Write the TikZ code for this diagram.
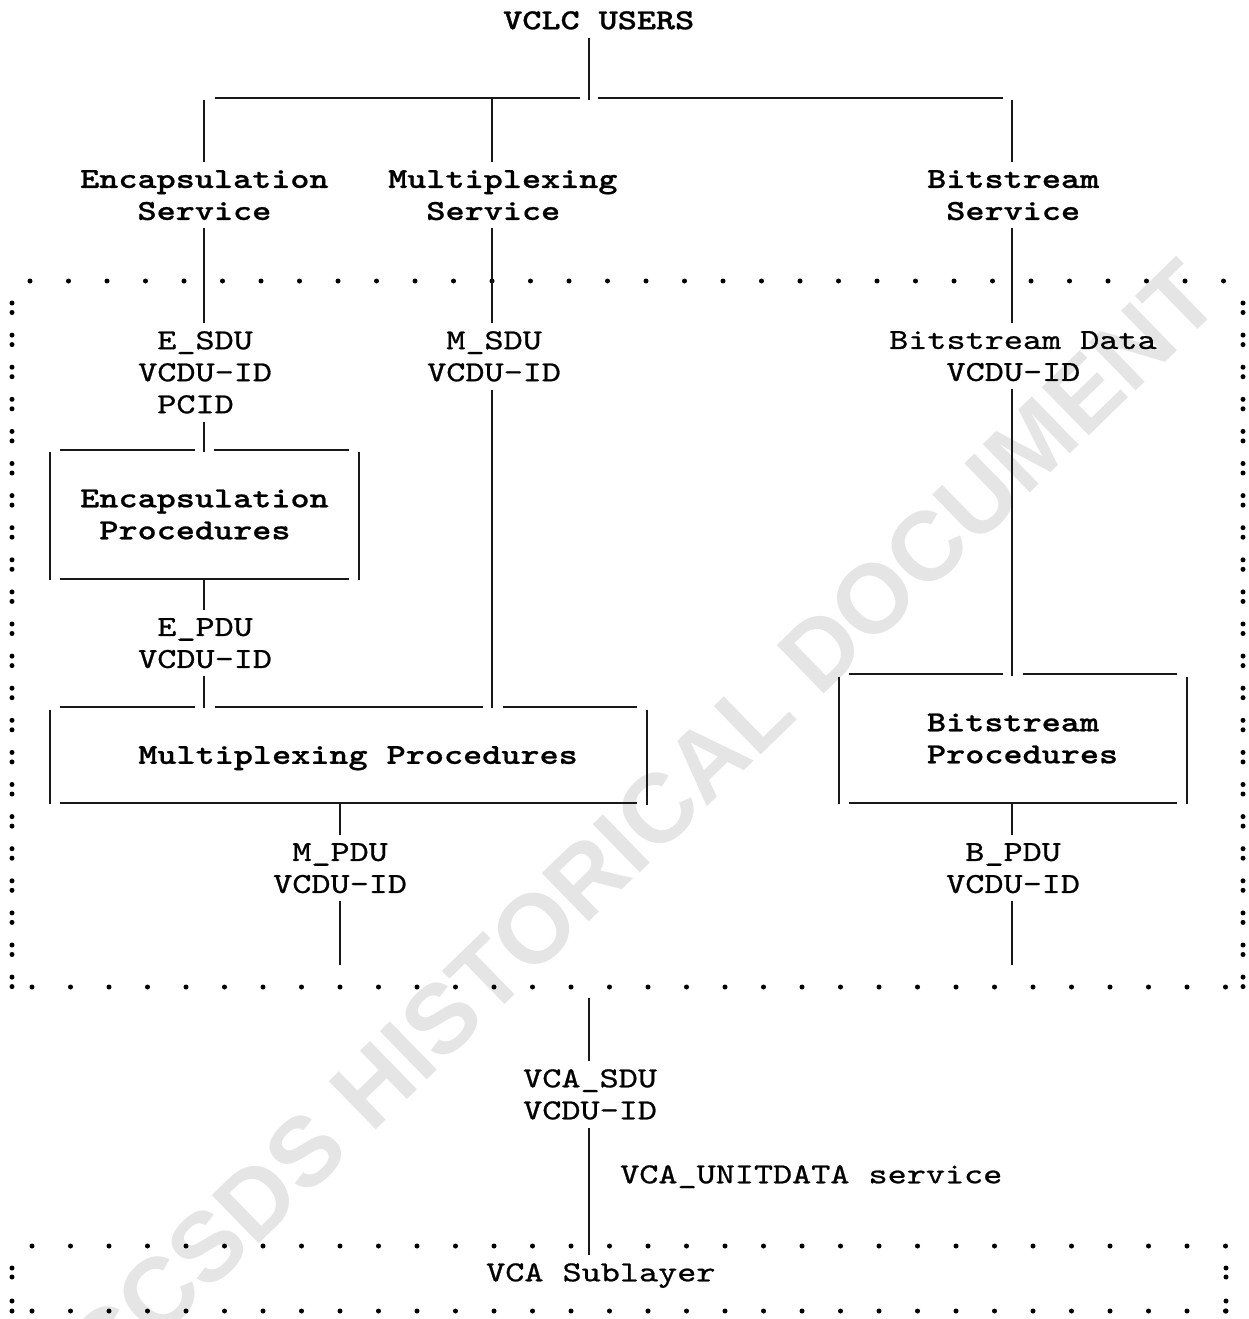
\documentclass[tikz,border=0pt]{standalone}
\usepackage{fontspec}
\usetikzlibrary{calc}
\newfontfamily\monoreg{lmmono10-regular.otf}[FakeStretch=1.255, FakeBold=0.8]
\newfontfamily\monobold{lmmonolt10-bold.otf}[FakeStretch=1.255, FakeBold=0.8]
\newfontfamily\wmfont{Liberation Sans}
\newcommand\txtreg{\monoreg\fontsize{29}{32}\selectfont}
\newcommand\txtbold{\monobold\fontsize{29}{32}\selectfont}
\newcommand\indentc[1]{\phantom{#1}}
\tikzset{
  ln/.style={line width=1.6pt, draw=black!90},
  txt/.style={font=\txtreg, anchor=north west, inner xsep=0pt, inner ysep=8pt, align=left},
  btxt/.style={txt, font=\txtbold},
  procbox/.style={font=\txtbold, align=left, inner sep=0pt},
  wmark/.style={font={\wmfont\bfseries\fontsize{98}{100}\selectfont}, text=black!10, rotate=44.2, inner sep=0pt},
}
\begin{document}
\begin{tikzpicture}[x=1pt,y=-1pt]
\useasboundingbox (0,0) rectangle (1248,1319);
% watermark
\node[wmark] (wm) at (642,824) {CCSDS HISTORICAL DOCUMENT};

% column coordinates
\coordinate (c204) at (204,0);
\coordinate (c340) at (340,0);
\coordinate (c492) at (492,0);
\coordinate (c589) at (589,0);
\coordinate (c1012) at (1012,0);
\coordinate (hub) at (589,98);
\coordinate (mend) at (340,965);
\coordinate (bend) at (1012,965);
\coordinate (vtop) at (589,998);
\coordinate (vbot) at (589,1255);

% dotted frames
\foreach \k in {0,...,31} {
  \fill ({30+38.5*\k},281) circle (2.5pt);
  \fill ({32+38.5*\k},987) circle (2.5pt);
  \fill ({32+38.5*\k},1246) circle (2.5pt);
  \fill ({32+38.5*\k},1311) circle (2.5pt);
}
\foreach \k in {0,...,21} {
  \fill (12,{303+32.1*\k}) circle (2.5pt);
  \fill (12,{312.5+32.1*\k}) circle (2.5pt);
  \fill (1243,{303+32.1*\k}) circle (2.5pt);
  \fill (1243,{312.5+32.1*\k}) circle (2.5pt);
}
\foreach \yy in {1268,1277,1301,1311} {
  \fill (12,\yy) circle (2.5pt);
  \fill (1226,\yy) circle (2.5pt);
}

% text nodes
\node[btxt] (users) at (503,3) {VCLC USERS};
\node[btxt] (encsvc) at (80,162) {Encapsulation\\\indentc{XXX}Service};
\node[btxt] (muxsvc) at (388,162) {Multiplexing\\\indentc{XX}Service};
\node[btxt] (bitsvc) at (927,162) {Bitstream\\\indentc{X}Service};
\node[txt] (esdu) at (138,323) {\indentc{X}E\_SDU\\VCDU-ID\\\indentc{X}PCID};
\node[txt] (msdu) at (427,323) {\indentc{X}M\_SDU\\VCDU-ID};
\node[txt] (bsdu) at (889,323) {Bitstream Data\\\indentc{XXX}VCDU-ID};
\node[txt] (epdu) at (138,610) {\indentc{X}E\_PDU\\VCDU-ID};
\node[txt] (mpdu) at (273,835) {\indentc{X}M\_PDU\\VCDU-ID};
\node[txt] (bpdu) at (946,835) {\indentc{X}B\_PDU\\VCDU-ID};
\node[txt] (vcasdu) at (523,1061) {VCA\_SDU\\VCDU-ID};
\node[txt] (unit) at (620,1157) {VCA\_UNITDATA service};
\node[txt] (sub) at (486,1255) {VCA Sublayer};

% procedure boxes
\node[procbox, minimum width=309pt, minimum height=129pt] (encproc) at (204.5,514.5) {Encapsulation\\\indentc{X}Procedures};
\node[procbox, text depth=0pt, minimum width=597pt, minimum height=96pt] (mproc) at (348.5,755) {\indentc{X}Multiplexing Procedures};
\node[procbox, minimum width=348pt, minimum height=129pt] (bproc) at (1013,738.5) {\indentc{X}Bitstream\\\indentc{X}Procedures};

\draw[ln] ($(encproc.north west)+(10,0)$) -- ($(encproc.north -| c204)+(-9,0)$)
          ($(encproc.north -| c204)+(10,0)$) -- ($(encproc.north east)+(-10,0)$)
          ($(encproc.south west)+(10,0)$) -- ($(encproc.south east)+(-10,0)$)
          ($(encproc.north west)+(0,2)$) -- ($(encproc.south west)+(0,1)$)
          ($(encproc.north east)+(0,2)$) -- ($(encproc.south east)+(0,1)$);
\draw[ln] ($(mproc.north west)+(10,0)$) -- ($(mproc.north -| c204)+(-9,0)$)
          ($(mproc.north -| c204)+(11,0)$) -- ($(mproc.north -| c492)+(-9,0)$)
          ($(mproc.north -| c492)+(11,0)$) -- ($(mproc.north east)+(-10,0)$)
          ($(mproc.south west)+(10,0)$) -- ($(mproc.south east)+(-10,0)$)
          ($(mproc.north west)+(0,3)$) -- ($(mproc.south west)+(0,1)$)
          ($(mproc.north east)+(0,3)$) -- ($(mproc.south east)+(0,2)$);
\draw[ln] ($(bproc.north west)+(10,0)$) -- ($(bproc.north -| c1012)+(-9,0)$)
          ($(bproc.north -| c1012)+(11,0)$) -- ($(bproc.north east)+(-10,0)$)
          ($(bproc.south west)+(10,0)$) -- ($(bproc.south east)+(-10,0)$)
          ($(bproc.north west)+(0,3)$) -- ($(bproc.south west)+(0,1)$)
          ($(bproc.north east)+(0,3)$) -- ($(bproc.south east)+(0,1)$);

% tree at top
\draw[ln] (users.south -| c589) -- ($(hub)+(0,2)$);
\draw[ln] ($(hub)+(-374,0)$) -- ($(hub)+(-9,0)$);
\draw[ln] ($(hub)+(9,0)$) -- ($(hub)+(414,0)$);
\draw[ln] ($(hub -| c204)+(0,2)$) -- (encsvc.north -| c204);
\draw[ln] (hub -| c492) -- (muxsvc.north -| c492);
\draw[ln] ($(hub -| c1012)+(0,2)$) -- (bitsvc.north -| c1012);

% connectors
\draw[ln] (encsvc.south -| c204) -- (esdu.north -| c204);
\draw[ln] (muxsvc.south -| c492) -- (msdu.north -| c492);
\draw[ln] (bitsvc.south -| c1012) -- (bsdu.north -| c1012);
\draw[ln] (esdu.south -| c204) -- ($(encproc.north -| c204)+(0,2)$);
\draw[ln] (encproc.south -| c204) -- (epdu.north -| c204);
\draw[ln] (epdu.south -| c204) -- ($(mproc.north -| c204)+(0,1)$);
\draw[ln] (msdu.south -| c492) -- ($(mproc.north -| c492)+(0,1)$);
\draw[ln] (bsdu.south -| c1012) -- ($(bproc.north -| c1012)+(0,2)$);
\draw[ln] (mproc.south -| c340) -- (mpdu.north -| c340);
\draw[ln] (mpdu.south -| c340) -- (mend);
\draw[ln] (bproc.south -| c1012) -- (bpdu.north -| c1012);
\draw[ln] (bpdu.south -| c1012) -- (bend);
\draw[ln] (vtop) -- (vcasdu.north -| c589);
\draw[ln] (vcasdu.south -| c589) -- (vbot);
\end{tikzpicture}
\end{document}
